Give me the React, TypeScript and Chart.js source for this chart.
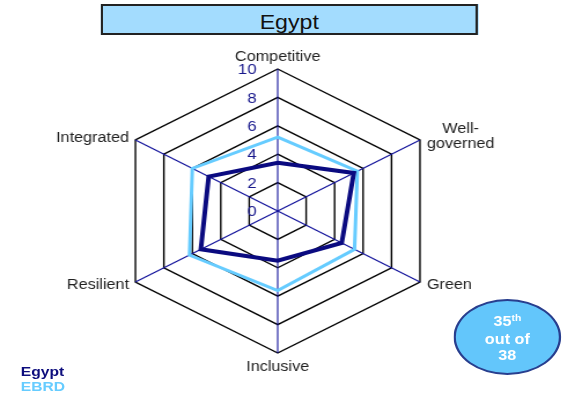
import React, { useEffect, useRef } from 'react';
import { Chart, registerables } from 'chart.js';

Chart.register(...registerables);

// ---- data ----
const categories = ['Competitive', 'Well-governed', 'Green', 'Inclusive', 'Resilient', 'Integrated'];
const categoryLines = [['Competitive'], ['Well-', 'governed'], ['Green'], ['Inclusive'], ['Resilient'], ['Integrated']];
const egyptValues = [3.4, 5.35, 4.5, 3.5, 5.4, 4.85];
const ebrdValues = [5.2, 5.6, 5.4, 5.6, 6.2, 6.0];
const scaleMin = 0;
const scaleMax = 10;
const scaleStep = 2;
const titleText = 'Egypt';
const legendLabels = ['Egypt', 'EBRD'];
const rankText = ['35', 'th', 'out of', '38'];

const FONT = '"Liberation Sans", Arial, Helvetica, sans-serif';
const STRETCH = 1.157;
const W = 486;
const H = 401;

const labelPlugin = {
  id: 'customLabels',
  afterDraw(chart: any) {
    const scale = chart.scales.r;
    const ctx = chart.ctx;
    ctx.save();
    // tick labels
    ctx.font = `14.5px ${FONT}`;
    ctx.fillStyle = '#18188c';
    ctx.textAlign = 'right';
    ctx.textBaseline = 'alphabetic';
    scale.ticks.forEach((t: any) => {
      const d = scale.getDistanceFromCenterForValue(t.value);
      ctx.fillText(String(t.value), scale.xCenter - 18.3, scale.yCenter - d + 5.2);
    });
    // point labels
    ctx.font = `14px ${FONT}`;
    ctx.fillStyle = '#222222';
    categoryLines.forEach((lines, i) => {
      const p = scale.getPointPosition(i, scale.drawingArea);
      const c = Math.cos(p.angle);
      const s = Math.sin(p.angle);
      const n = lines.length;
      if (Math.abs(c) < 0.01) {
        ctx.textAlign = 'center';
        if (s < 0) {
          lines.forEach((ln, k) => ctx.fillText(ln, p.x, p.y - 8.3 - (n - 1 - k) * 15));
        } else {
          lines.forEach((ln, k) => ctx.fillText(ln, p.x, p.y + 17.7 + k * 15));
        }
      } else {
        const w = Math.max(...lines.map((l) => ctx.measureText(l).width));
        ctx.textAlign = 'center';
        const cx = c > 0 ? p.x + 6 + w / 2 : p.x - 5.5 - w / 2;
        if (s < 0) {
          const last = p.y + 2.3 + (n - 1) * 6;
          lines.forEach((ln, k) => ctx.fillText(ln, cx, last - (n - 1 - k) * 15));
        } else {
          const first = p.y + 6.5;
          lines.forEach((ln, k) => ctx.fillText(ln, cx, first + k * 15));
        }
      }
    });
    ctx.restore();
  },
};

export default function App() {
  const canvasRef = useRef<HTMLCanvasElement | null>(null);

  useEffect(() => {
    if (!canvasRef.current) return;
    const chart = new Chart(canvasRef.current, {
      type: 'radar',
      data: {
        labels: categories,
        datasets: [
          {
            label: legendLabels[0],
            data: egyptValues,
            borderColor: '#0a0a80',
            backgroundColor: 'transparent',
            borderWidth: 4,
            fill: false,
            pointRadius: 0,
            pointHoverRadius: 0,
          },
          {
            label: legendLabels[1],
            data: ebrdValues,
            borderColor: '#66ccff',
            backgroundColor: 'transparent',
            borderWidth: 3,
            fill: false,
            pointRadius: 0,
            pointHoverRadius: 0,
          },
        ],
      },
      options: {
        animation: false,
        responsive: false,
        layout: { padding: { left: 98, top: 69, right: W - 98 - 284, bottom: H - 69 - 284 } },
        plugins: { legend: { display: false }, tooltip: { enabled: false }, title: { display: false } },
        elements: { line: { tension: 0, borderJoinStyle: 'miter' } },
        scales: {
          r: {
            min: scaleMin,
            max: scaleMax,
            ticks: { stepSize: scaleStep, display: false },
            pointLabels: { display: false },
            grid: { color: '#000000', lineWidth: 1.4 },
            angleLines: { color: '#10109a', lineWidth: 1.1 },
          },
        },
      },
      plugins: [labelPlugin],
    } as any);
    return () => chart.destroy();
  }, []);

  return (
    <div
      style={{
        position: 'fixed',
        left: 0,
        top: 0,
        width: W,
        height: H,
        transform: `scaleX(${STRETCH})`,
        transformOrigin: '0 0',
        fontFamily: FONT,
        background: '#ffffff',
      }}
    >
      <canvas
        ref={canvasRef}
        width={W}
        height={H}
        style={{ position: 'absolute', left: 0, top: 0, width: W, height: H }}
      />
      {/* title box */}
      <div
        style={{
          position: 'absolute',
          left: 87,
          top: 4,
          width: 326,
          height: 31,
          boxSizing: 'border-box',
          border: '2px solid #222',
          background: '#a3dcfe',
        }}
      />
      <div
        style={{
          position: 'absolute',
          left: 87,
          top: 11,
          width: 326,
          textAlign: 'center',
          fontSize: 20,
          lineHeight: '22px',
          color: '#111',
        }}
      >
        {titleText}
      </div>
      {/* legend */}
      <div
        style={{
          position: 'absolute',
          left: 18,
          top: 364,
          fontSize: 13.5,
          fontWeight: 'bold',
          lineHeight: '15px',
        }}
      >
        <div style={{ color: '#0d0d7d' }}>{legendLabels[0]}</div>
        <div style={{ color: '#66ccff' }}>{legendLabels[1]}</div>
      </div>
      {/* rank ellipse */}
      <div
        style={{
          position: 'absolute',
          left: 392,
          top: 299,
          width: 93,
          height: 76,
          boxSizing: 'border-box',
          borderRadius: '50%',
          border: '2px solid #283e8e',
          background: '#63c6fb',
        }}
      />
      <div
        style={{
          position: 'absolute',
          left: 392,
          top: 314,
          width: 93,
          textAlign: 'center',
          color: '#ffffff',
          fontWeight: 'bold',
          fontSize: 14,
          lineHeight: '15.8px',
        }}
      >
        <div>
          {rankText[0]}
          <span style={{ fontSize: 9, position: 'relative', top: -5 }}>{rankText[1]}</span>
        </div>
        <div>{rankText[2]}</div>
        <div>{rankText[3]}</div>
      </div>
    </div>
  );
}
